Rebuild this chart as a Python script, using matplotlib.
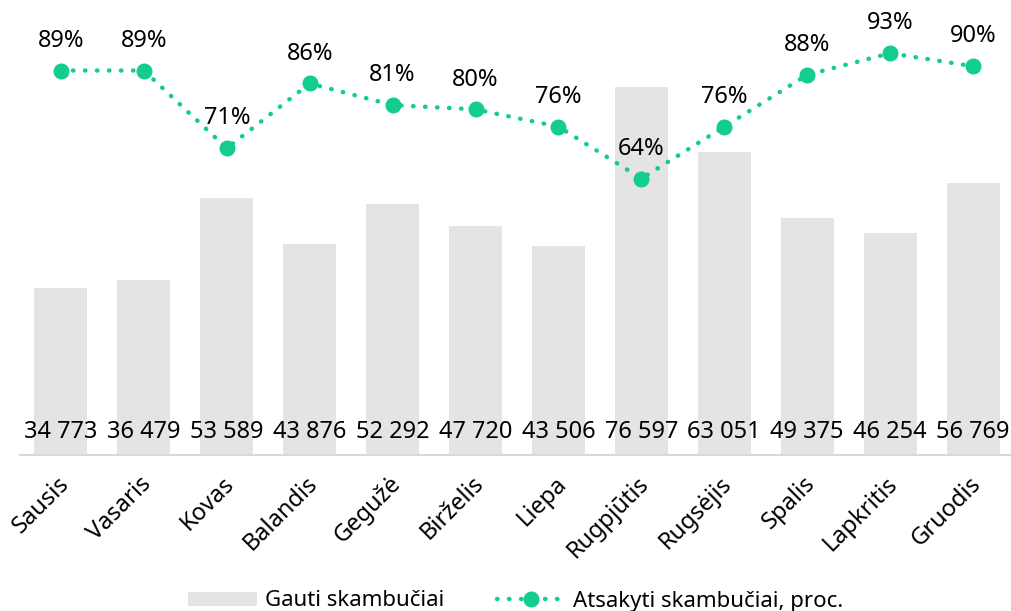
import numpy as np
import matplotlib.pyplot as plt
import matplotlib.transforms as mtransforms
from matplotlib.lines import Line2D
from matplotlib.patches import Patch

plt.rcParams['font.family'] = ['Noto Sans', 'DejaVu Sans']

# data
months = ['Sausis', 'Vasaris', 'Kovas', 'Balandis', 'Gegužė', 'Birželis',
          'Liepa', 'Rugpjūtis', 'Rugsėjis', 'Spalis', 'Lapkritis', 'Gruodis']
calls = [34773, 36479, 53589, 43876, 52292, 47720,
         43506, 76597, 63051, 49375, 46254, 56769]
answered = [0.89, 0.89, 0.71, 0.86, 0.81, 0.80,
            0.76, 0.64, 0.76, 0.88, 0.93, 0.90]

bar_color = '#e4e4e4'
green = '#12cd8e'

fig = plt.figure(figsize=(10.11, 6.11), dpi=100)
ax = fig.add_axes([19.5 / 1011, 156 / 611, 995 / 1011, 432 / 611])
x = np.arange(len(months))

ax.bar(x, calls, width=0.64, color=bar_color, zorder=1)
ax.set_xlim(-0.5, len(months) - 0.5)
ax.set_ylim(0, 90000)
ax.set_yticks([])
for s in ['top', 'right', 'left']:
    ax.spines[s].set_visible(False)
ax.spines['bottom'].set_color('#d9d9d9')
ax.spines['bottom'].set_linewidth(1.5)
ax.set_xticks(x)
ax.set_xticklabels(months, rotation=45, ha='right', va='top',
                   rotation_mode='anchor', fontsize=17)
ax.tick_params(axis='x', length=0, pad=12)
shift = mtransforms.ScaledTranslation(-4 / 100, 0, fig.dpi_scale_trans)
for lbl in ax.get_xticklabels():
    lbl.set_transform(lbl.get_transform() + shift)

# value labels near the bottom of bars
for xi, v in zip(x, calls):
    ax.annotate(f'{v:,}'.replace(',', ' '), (xi, 0), xytext=(0, 16.5),
                textcoords='offset points', ha='center', va='center',
                fontsize=17)

# answered share on secondary axis
ax2 = ax.twinx()
ax2.set_ylim(0, 1.0)
ax2.axis('off')
ax2.plot(x, answered, color=green, linewidth=3.2, linestyle=(0, (0.1, 2.6)),
         dash_capstyle='round', marker='o', markersize=10.5, zorder=3)
for xi, v in zip(x, answered):
    ax2.annotate(f'{v:.0%}', (xi, v), xytext=(0, 21.5),
                 textcoords='offset points', ha='center', va='center',
                 fontsize=17)

# legend
handles = [Patch(facecolor=bar_color, edgecolor='none'),
           Line2D([], [], color=green, linewidth=3.2, linestyle=(0, (0.1, 2.6)),
                  dash_capstyle='round', marker='o', markersize=10.5)]
fig.legend(handles, ['Gauti skambučiai', 'Atsakyti skambučiai, proc.'],
           loc='center', bbox_to_anchor=(516 / 1011, 10 / 611), ncol=2,
           frameon=False, fontsize=16, handlelength=3.1, handleheight=0.6,
           columnspacing=2.35, numpoints=1, handletextpad=0.35)

plt.savefig('out.png', dpi=100)
